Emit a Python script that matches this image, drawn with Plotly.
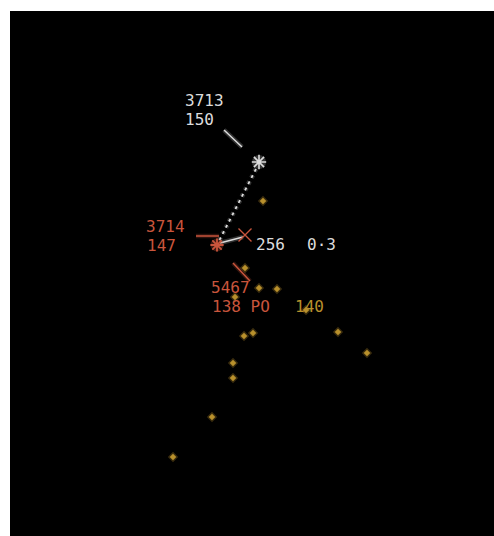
import plotly.graph_objects as go

# Radar returns (scope coordinates, y measured downward)
return_x = [263, 245, 259, 277, 235, 306, 244, 253, 338, 367, 233, 233, 212, 173]
return_y = [201, 268, 288, 289, 297, 310, 336, 333, 332, 353, 363, 378, 417, 457]

# Tracked aircraft
ac1_pos = (259, 162)   # 3713
ac1_lead = ([224, 242], [130, 147])
ac1_hist = ([256, 219], [169, 241])
ac1_label = ["3713", "150"]

ac2_pos = (217, 245)   # 3714
ac2_lead = ([196, 219], [236, 236])
ac2_x = (245, 235)
ac2_vec = ([220, 243], [243, 237])
ac2_label = ["3714", "147"]
range_label = ["256", "0·3"]

ac3_lead = ([233, 250], [263, 281])  # 5467
ac3_label = ["5467", "138 PO", "140"]

WHITE = "#dcdcdc"
RED = "#c9553c"
AMB = "#b8902c"
FONT = "DejaVu Sans Mono"

fig = go.Figure()

def line(xs, ys, color, width=1.5, dash="solid", glow=True):
    if glow:
        fig.add_trace(go.Scatter(x=xs, y=ys, mode="lines",
                                 line=dict(color=color, width=width + 3, dash=dash),
                                 opacity=0.22, hoverinfo="skip"))
    fig.add_trace(go.Scatter(x=xs, y=ys, mode="lines",
                             line=dict(color=color, width=width, dash=dash),
                             hoverinfo="skip"))

# returns
fig.add_trace(go.Scatter(x=return_x, y=return_y, mode="markers",
                         marker=dict(symbol="diamond", size=8, color=AMB, opacity=0.3,
                                     line=dict(width=0)), hoverinfo="skip"))
fig.add_trace(go.Scatter(x=return_x, y=return_y, mode="markers",
                         marker=dict(symbol="diamond", size=5, color=AMB,
                                     line=dict(width=0)), hoverinfo="skip"))

# aircraft 1
line(*ac1_lead, WHITE)
line(*ac1_hist, WHITE, width=1.8, dash="3px,4px")
fig.add_trace(go.Scatter(x=[ac1_pos[0]], y=[ac1_pos[1]], mode="markers",
                         marker=dict(symbol="circle", size=14, color=WHITE, opacity=0.25,
                                     line=dict(width=0)), hoverinfo="skip"))
fig.add_trace(go.Scatter(x=[ac1_pos[0]], y=[ac1_pos[1]], mode="markers",
                         marker=dict(symbol="asterisk-open", size=12, color=WHITE,
                                     line=dict(color=WHITE, width=1.6)), hoverinfo="skip"))

# aircraft 2
line(*ac2_lead, RED)
line(*ac2_vec, WHITE)
fig.add_trace(go.Scatter(x=[ac2_x[0]], y=[ac2_x[1]], mode="markers",
                         marker=dict(symbol="x-thin-open", size=13, color=RED,
                                     line=dict(color=RED, width=1.4)), hoverinfo="skip"))
fig.add_trace(go.Scatter(x=[ac2_pos[0]], y=[ac2_pos[1]], mode="markers",
                         marker=dict(symbol="circle", size=13, color=RED, opacity=0.3,
                                     line=dict(width=0)), hoverinfo="skip"))
fig.add_trace(go.Scatter(x=[ac2_pos[0]], y=[ac2_pos[1]], mode="markers",
                         marker=dict(symbol="asterisk-open", size=11, color=RED,
                                     line=dict(color=RED, width=1.8)), hoverinfo="skip"))

# aircraft 3
line(*ac3_lead, RED)

def label(x, y, txt, color):
    fig.add_annotation(x=x, y=y, text=txt, showarrow=False, xanchor="left", yanchor="middle",
                       font=dict(family=FONT, size=16, color=color), borderpad=0)

label(184, 100, ac1_label[0], WHITE)
label(184, 119, ac1_label[1], WHITE)
label(145, 226, ac2_label[0], RED)
label(146, 245, ac2_label[1], RED)
label(255, 244, range_label[0], WHITE)
label(306, 244, range_label[1], WHITE)
label(210, 287, ac3_label[0], RED)
label(211, 306, ac3_label[1], RED)
label(294, 306, ac3_label[2], AMB)

fig.update_layout(
    width=494, height=536,
    margin=dict(l=10, r=0, t=11, b=0),
    paper_bgcolor="white", plot_bgcolor="black",
    showlegend=False,
    xaxis=dict(range=[10, 494], visible=False, fixedrange=True),
    yaxis=dict(range=[536, 11], visible=False, fixedrange=True),
)
fig.write_html("out.html", config={"displayModeBar": False},
               post_script="document.body.style.margin='0';document.body.style.overflow='hidden';")
